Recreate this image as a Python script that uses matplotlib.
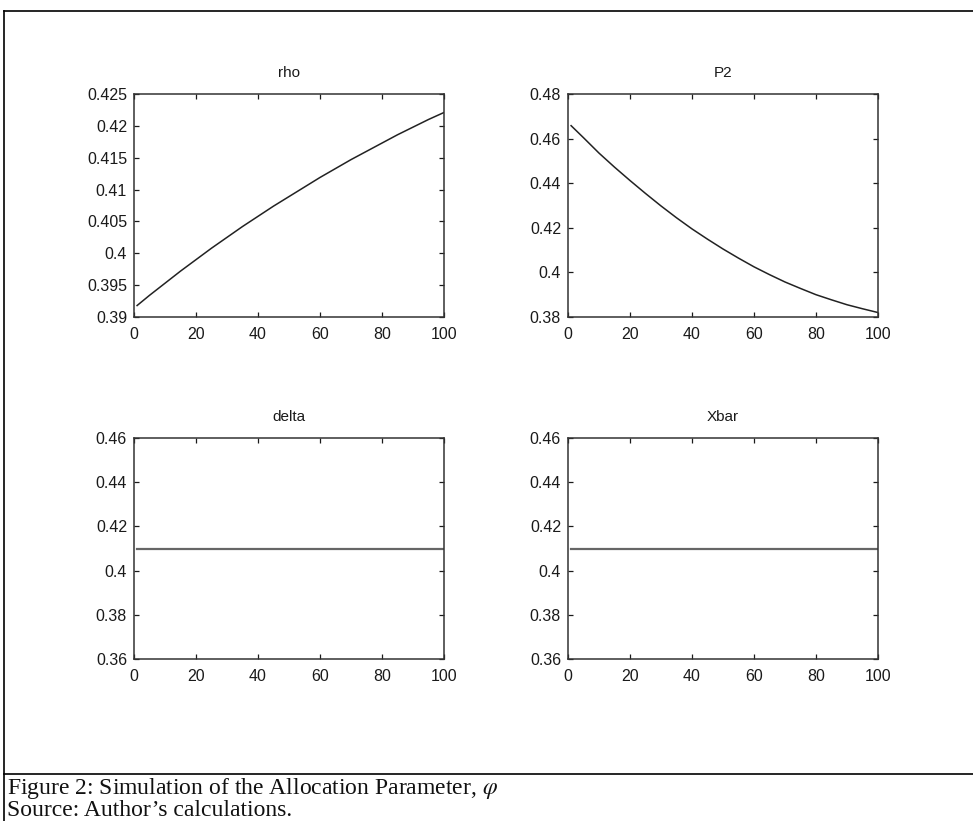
import matplotlib
matplotlib.use("Agg")
import matplotlib.pyplot as plt
from matplotlib.lines import Line2D
from matplotlib.ticker import FuncFormatter, MultipleLocator

plt.rcParams['font.family'] = ['Liberation Sans', 'DejaVu Sans']
plt.rcParams['mathtext.fontset'] = 'stix'

# ---- data ----
x_pts = [1, 5, 10, 15, 20, 25, 30, 35, 40, 45, 50, 55, 60, 65, 70, 75, 80, 85, 90, 95, 100]
rho = [0.3918, 0.3934, 0.3953, 0.3972, 0.3990, 0.4008, 0.4025, 0.4042, 0.4058, 0.4074,
       0.4089, 0.4104, 0.4119, 0.4133, 0.4147, 0.4160, 0.4173, 0.4186, 0.4198, 0.4210, 0.4221]
p2 = [0.4658, 0.4604, 0.4535, 0.4472, 0.4412, 0.4354, 0.4298, 0.4245, 0.4195, 0.4149,
      0.4105, 0.4064, 0.4025, 0.3990, 0.3957, 0.3928, 0.3900, 0.3877, 0.3855, 0.3837, 0.3820]
delta = [0.4096] * len(x_pts)
xbar = [0.4096] * len(x_pts)

titles = ["rho", "P2", "delta", "Xbar"]
series = [rho, p2, delta, xbar]
ylims = [(0.39, 0.425), (0.38, 0.48), (0.36, 0.46), (0.36, 0.46)]
ysteps = [0.005, 0.02, 0.02, 0.02]
xticks = [0, 20, 40, 60, 80, 100]
line_colors = ["#222222", "#222222", "#666666", "#666666"]
line_widths = [1.1, 1.1, 1.6, 1.6]

caption1 = "Figure 2: Simulation of the Allocation Parameter, $\\varphi$"
caption2 = "Source: Author\u2019s calculations."

W, H = 973, 821
fig = plt.figure(figsize=(W / 100, H / 100), dpi=100)

# axes boxes in pixels: (left, top, right, bottom)
boxes = [(134, 94, 444, 317), (568, 94, 878, 317),
         (134, 438, 444, 659), (568, 438, 878, 659)]

def fmt(v, pos):
    return ("%.3f" % v).rstrip("0").rstrip(".")

for i, (l, t, r, b) in enumerate(boxes):
    ax = fig.add_axes([l / W, 1 - b / H, (r - l) / W, (b - t) / H])
    ax.plot(x_pts, series[i], color=line_colors[i], lw=line_widths[i])
    ax.set_xlim(0, 100)
    ax.set_ylim(*ylims[i])
    ax.set_xticks(xticks)
    ax.yaxis.set_major_locator(MultipleLocator(ysteps[i]))
    ax.yaxis.set_major_formatter(FuncFormatter(fmt))
    ax.tick_params(direction="in", length=3.5, width=0.9, top=True, right=True,
                   labelsize=11.5, colors="#1a1a1a")
    ax.tick_params(axis="x", pad=7)
    ax.tick_params(axis="y", pad=5)
    for s in ax.spines.values():
        s.set_linewidth(1.1)
        s.set_color("#333333")
    ax.set_title(titles[i], fontsize=11, pad=12, color="#1a1a1a")

# frame lines (table cell)
lx = 4 / W
ty = 1 - 11 / H
by = 1 - 774 / H
fig.add_artist(Line2D([lx, 1], [ty, ty], transform=fig.transFigure, color="black", lw=1.2))
fig.add_artist(Line2D([lx, lx], [0, ty], transform=fig.transFigure, color="black", lw=1.2))
fig.add_artist(Line2D([lx, 1], [by, by], transform=fig.transFigure, color="black", lw=1.2))

fig.text(7 / W, 1 - 788 / H, caption1, fontfamily="Liberation Serif", fontsize=17,
         va="center", ha="left", color="#111111")
fig.text(7 / W, 1 - 810 / H, caption2, fontfamily="Liberation Serif", fontsize=17,
         va="center", ha="left", color="#111111")

fig.savefig("out.png", dpi=100)
